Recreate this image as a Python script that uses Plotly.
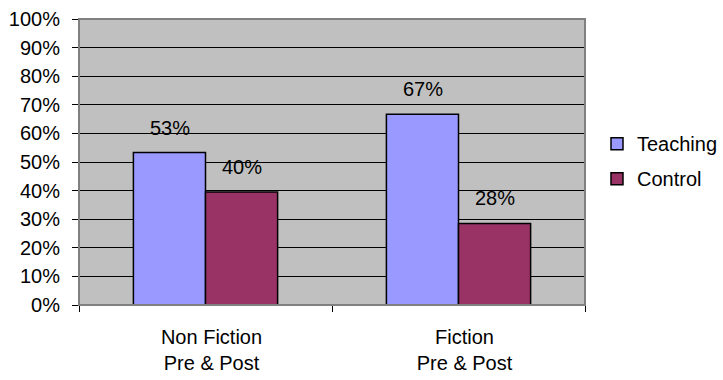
import plotly.graph_objects as go

categories = ["Non Fiction<br>Pre & Post", "Fiction<br>Pre & Post"]
teaching = [0.533, 0.667]
control = [0.395, 0.285]
teaching_labels = ["53%", "67%"]
control_labels = ["40%", "28%"]
y_ticks = [i / 10 for i in range(11)]
y_tick_text = [f"{i*10}%" for i in range(11)]

FONT = "Liberation Sans, Arial, sans-serif"
FS = 20
fig = go.Figure()
fig.add_trace(go.Bar(name="Teaching", x=categories, y=teaching,
                     marker=dict(color="#9999FF", line=dict(color="black", width=1.5)),
                     legendgroup="a"))
fig.add_trace(go.Bar(name="Control", x=categories, y=control,
                     marker=dict(color="#993366", line=dict(color="black", width=1.5)),
                     legendgroup="b"))

annotations = []
for c, v, t in zip(categories, teaching, teaching_labels):
    annotations.append(dict(x=c, y=v, text=t, showarrow=False, xshift=-36, yshift=25,
                            yanchor="middle", font=dict(size=FS, color="black", family=FONT)))
for c, v, t in zip(categories, control, control_labels):
    annotations.append(dict(x=c, y=v, text=t, showarrow=False, xshift=36, yshift=25,
                            yanchor="middle", font=dict(size=FS, color="black", family=FONT)))

fig.update_layout(
    width=723, height=380,
    margin=dict(l=79, r=138, t=19, b=75, autoexpand=False),
    paper_bgcolor="white", plot_bgcolor="#C0C0C0",
    barmode="group", bargap=0.43, bargroupgap=0,
    font=dict(family=FONT, size=FS, color="black"),
    annotations=annotations,
    legend=dict(x=1.0237, y=0.503, xanchor="left", yanchor="middle",
                traceorder="grouped", tracegroupgap=6,
                font=dict(size=FS, family=FONT), bgcolor="rgba(0,0,0,0)"),
    shapes=[dict(type="rect", xref="paper", yref="paper", x0=0, x1=1, y0=0, y1=1,
                 line=dict(color="#808080", width=2), layer="above")],
)
fig.update_yaxes(range=[0, 1], tickvals=y_ticks, ticktext=y_tick_text,
                 showgrid=True, gridcolor="black", gridwidth=1,
                 ticks="outside", ticklen=6, tickcolor="black", ticklabelstandoff=8,
                 showline=True, linecolor="black", linewidth=1, zeroline=False,
                 tickfont=dict(size=FS, family=FONT))
fig.update_xaxes(showgrid=False, ticks="outside", tickson="boundaries", ticklen=6,
                 tickcolor="black", showline=True, linecolor="black", linewidth=1,
                 tickfont=dict(size=FS, family=FONT), ticklabelshift=6,
                 ticklabelstandoff=14)

fig.write_html("out.html")
